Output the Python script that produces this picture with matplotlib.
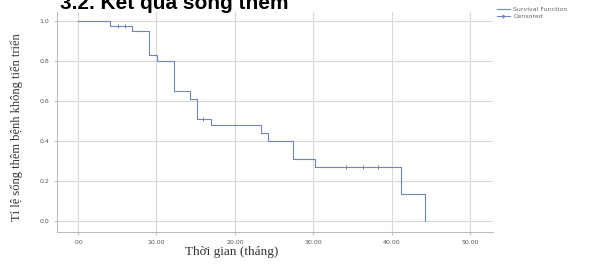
import matplotlib
matplotlib.use("Agg")
import matplotlib.pyplot as plt
import numpy as np
from matplotlib.lines import Line2D

# Kaplan-Meier step data
event_times = [0, 4.1, 6.9, 9.1, 10.1, 12.2, 14.3, 15.2, 17.0, 23.3, 24.2, 27.4, 30.2, 41.2, 44.2]
survival = [1.0, 0.975, 0.95, 0.83, 0.80, 0.65, 0.61, 0.51, 0.48, 0.44, 0.40, 0.31, 0.27, 0.135, 0.0]
censored_times = [5.1, 6.0, 15.9, 34.1, 36.3, 38.2]

x_ticks = [0, 10, 20, 30, 40, 50]
x_tick_labels = [".00", "10.00", "20.00", "30.00", "40.00", "50.00"]
y_ticks = [0.0, 0.2, 0.4, 0.6, 0.8, 1.0]
y_tick_labels = ["0.0", "0.2", "0.4", "0.6", "0.8", "1.0"]

title = "3.2. Kết quả sống thêm"
xlabel = "Thời gian (tháng)"
ylabel = "Tỉ lệ sống thêm bệnh không tiến triển"
legend_labels = ["Survival Function", "Censored"]

line_color = "#7284b8"
grid_color = "#d8d8d8"

fig = plt.figure(figsize=(5.93, 2.64), dpi=100)
ax = fig.add_axes([57/593, 1-232/264, (493-57)/593, (232-12)/264])

ax.step(event_times, survival, where="post", color=line_color, lw=0.8, zorder=3)

def surv_at(t):
    idx = np.searchsorted(event_times, t, side="right") - 1
    return survival[idx]

cens_y = [surv_at(t) for t in censored_times]
ax.plot(censored_times, cens_y, linestyle="none", marker="+", ms=3.5, mew=0.7,
        color=line_color, zorder=4)

ax.set_xlim(-2.68, 52.9)
ax.set_ylim(-0.0547, 1.0448)
ax.set_xticks(x_ticks)
ax.set_xticklabels(x_tick_labels)
ax.set_yticks(y_ticks)
ax.set_yticklabels(y_tick_labels)
ax.tick_params(labelsize=4.5, labelcolor="#555555", color="#aaaaaa", length=2, width=0.5)
ax.grid(True, color=grid_color, lw=0.8)
ax.set_axisbelow(True)
for s in ["top", "right"]:
    ax.spines[s].set_visible(False)
for s in ["left", "bottom"]:
    ax.spines[s].set_color("#bbbbbb")
    ax.spines[s].set_linewidth(0.8)

fig.text(232/593, 1-252/264, xlabel, family="Liberation Serif", fontsize=9.5,
         color="#333333", ha="center", va="center")
fig.text(17/593, 1-127/264, ylabel, family="Liberation Serif", fontsize=9,
         color="#333333", ha="center", va="center", rotation=90)

fig.text(60/593, 1-9/264, title, fontsize=15, fontweight="bold", family="Liberation Sans",
         va="baseline", ha="left", color="black")

handles = [Line2D([0], [0], color=line_color, lw=0.8),
           Line2D([0], [0], color=line_color, lw=0.8, marker="+", ms=3.5)]
fig.legend(handles, legend_labels, loc="upper left", bbox_to_anchor=(494/593, 1-4/264),
           frameon=False, fontsize=4.5, handlelength=2.2, handletextpad=0.5,
           labelspacing=0.3, borderaxespad=0, labelcolor="#666666")

fig.savefig("out.png", dpi=100)
